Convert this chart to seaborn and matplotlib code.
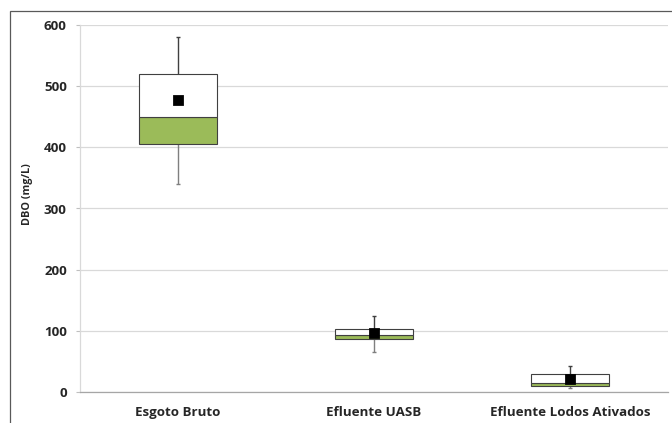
import numpy as np
import pandas as pd
import seaborn as sns
import matplotlib.pyplot as plt
from matplotlib.patches import Rectangle

# values (DBO, mg/L)
categorias = ['Esgoto Bruto', 'Efluente UASB', 'Efluente Lodos Ativados']
minimo = [340, 65, 7]
q1 = [405, 87, 10]
mediana = [449, 94, 15]
q3 = [520, 103, 29]
maximo = [580, 125, 42]
media = [477, 96, 22]

verde = '#9BBB59'
borda = '#404040'

sns.set_style('white')
plt.rcParams['font.family'] = ['Open Sans', 'DejaVu Sans']

fig = plt.figure(figsize=(6.72, 4.23), dpi=100)
ax = fig.add_axes([80 / 672, 1 - 392 / 423, 588 / 672, 367 / 423])

df = pd.DataFrame({'cat': categorias, 'media': media})
x = np.arange(len(categorias))

# whiskers
ax.vlines(x, q3, maximo, color=borda, lw=1, zorder=2)
ax.vlines(x, minimo, q1, color='#7f7f7f', lw=1, zorder=2)
ax.hlines(maximo, x - 0.012, x + 0.012, color=borda, lw=1, zorder=2)
ax.hlines(minimo, x - 0.012, x + 0.012, color='#7f7f7f', lw=1, zorder=2)

# box: lower part green (q1 -> median), upper part white (median -> q3)
w = 0.4
ax.bar(x, np.subtract(mediana, q1), bottom=q1, width=w, color=verde,
       edgecolor=borda, linewidth=0.8, zorder=3)
ax.bar(x, np.subtract(q3, mediana), bottom=mediana, width=w, color='white',
       edgecolor=borda, linewidth=0.8, zorder=3)

# mean markers
sns.scatterplot(data=df, x='cat', y='media', marker='s', s=50, color='black',
                edgecolor='black', ax=ax, zorder=4, legend=False)

ax.set_xlim(-0.5, 2.5)
ax.set_ylim(0, 600)
ax.set_yticks([0, 100, 200, 300, 400, 500, 600])
ax.set_xticks(x)
ax.set_xticklabels(categorias, fontsize=9.6, fontweight='bold')
for lab in ax.get_yticklabels():
    lab.set_fontsize(9.6)
    lab.set_fontweight('bold')
ax.set_xlabel('')
ax.set_ylabel('DBO (mg/L)', fontsize=7.8, fontweight='bold')
ax.yaxis.set_label_coords(-0.08, 0.54)

ax.yaxis.grid(True, color='#D9D9D9', lw=0.9)
ax.set_axisbelow(True)
ax.tick_params(axis='y', length=3, width=0.8, color='#BFBFBF', pad=6.5, left=True)
ax.tick_params(axis='x', length=0, pad=10)

for s in ['top', 'right']:
    ax.spines[s].set_visible(False)
ax.spines['left'].set_color('#D9D9D9')
ax.spines['left'].set_linewidth(0.9)
ax.spines['bottom'].set_color('#A6A6A6')
ax.spines['bottom'].set_linewidth(0.9)

# chart frame
fig.add_artist(Rectangle((10 / 672, -0.1), 2, 1.1 - 11 / 423, transform=fig.transFigure,
                         fill=False, edgecolor='#595959', lw=0.9))

fig.savefig('out.png', dpi=100)
